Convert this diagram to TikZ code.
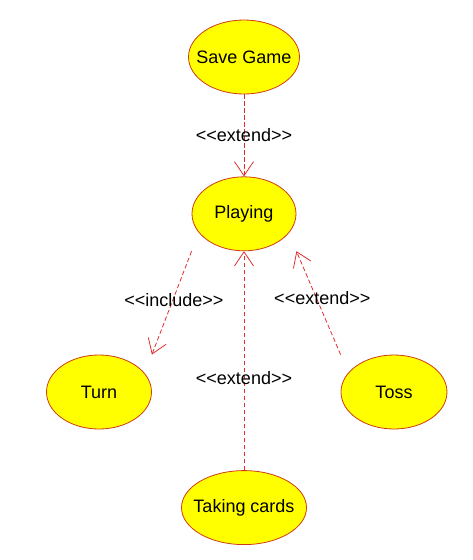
\documentclass[tikz,border=0pt]{standalone}
\usepackage{fontspec}
\setmainfont{Liberation Sans}
\usepackage{tikz}
\usetikzlibrary{arrows.meta,positioning,shapes.geometric}
\definecolor{ucfill}{RGB}{255,255,0}
\definecolor{ucline}{RGB}{205,60,20}
\definecolor{deplink}{RGB}{225,45,45}
\tikzset{
  uc/.style={draw=ucline, fill=ucfill, ellipse, line width=0.8pt, minimum height=74pt, inner xsep=-10pt, inner ysep=0pt, align=center, font=\fontsize{18}{21}\selectfont},
  dep/.style={draw=deplink, line width=0.8pt, dash pattern=on 4.5pt off 2.5pt, -{Straight Barb[length=14pt, width=19pt]}},
  lbl/.style={font=\fontsize{18}{21}\selectfont, inner sep=1pt},
}
\begin{document}
\begin{tikzpicture}[x=1pt, y=-1pt]
\useasboundingbox (0,0) rectangle (472,560);
\node[uc, minimum width=111pt] (sav) at (244,57) {Save Game};
\node[uc, below=82pt of sav, minimum width=104pt] (ply) {Playing};
\node[uc, below=219pt of ply, minimum width=125pt] (tak) {Taking cards};
\node[uc, minimum width=105pt] (trn) at (99,392) {Turn};
\node[uc, minimum width=106pt] (tos) at (394,392) {Toss};
\draw[dep] (sav.south) -- node[lbl]{<{}<extend>{}>} (ply.north);
\draw[dep] (ply.west |- ply.south) -- node[lbl, pos=0.47, xshift=1pt]{<{}<include>{}>} (trn.east |- trn.north);
\draw[dep] (tak.north) -- node[lbl, pos=0.42]{<{}<extend>{}>} (ply.south);
\draw[dep] (tos.west |- tos.north) -- node[lbl, pos=0.55, xshift=6pt]{<{}<extend>{}>} (ply.east |- ply.south);
\end{tikzpicture}
\end{document}
